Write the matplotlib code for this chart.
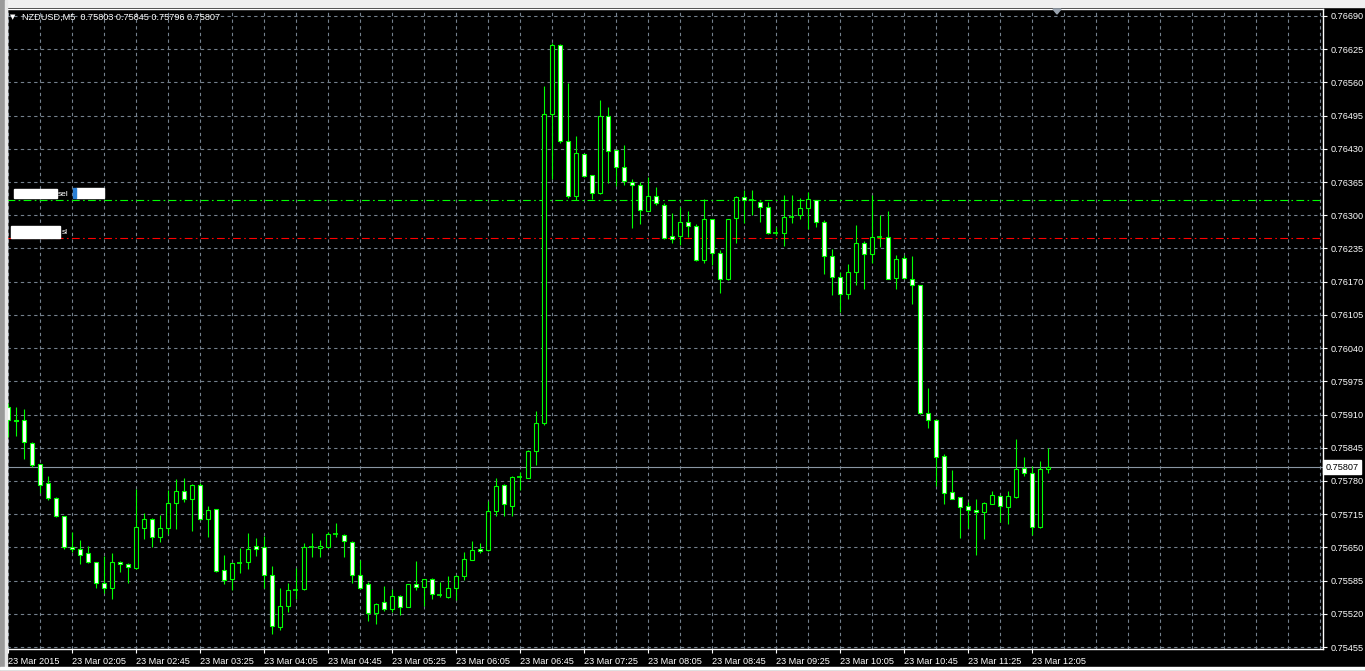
import numpy as np
import matplotlib.pyplot as plt
from matplotlib.patches import Rectangle, Polygon
from matplotlib.transforms import blended_transform_factory

plt.rcParams['font.family'] = ['Liberation Sans', 'DejaVu Sans']

# NZDUSD M5 bars, 23 Mar 2015 01:25 .. 12:15 (one bar every 5 minutes)
opens = [0.75924, 0.75900, 0.75900, 0.75855, 0.75813, 0.75775, 0.75746, 0.75711, 0.75650, 0.75646,
         0.75638, 0.75622, 0.75580, 0.75571, 0.75622, 0.75617, 0.75610, 0.75687, 0.75705, 0.75670,
         0.75687, 0.75736, 0.75760, 0.75744, 0.75773, 0.75705, 0.75725, 0.75605, 0.75589, 0.75620,
         0.75621, 0.75652, 0.75650, 0.75595, 0.75495, 0.75536, 0.75566, 0.75568, 0.75650, 0.75649,
         0.75651, 0.75677, 0.75675, 0.75660, 0.75595, 0.75578, 0.75521, 0.75543, 0.75529, 0.75554,
         0.75534, 0.75578, 0.75572, 0.75589, 0.75556, 0.75553, 0.75570, 0.75593, 0.75626, 0.75646,
         0.75644, 0.75722, 0.75773, 0.75731, 0.75787, 0.75785, 0.75838, 0.75893, 0.76499, 0.76634,
         0.76445, 0.76338, 0.76419, 0.76378, 0.76344, 0.76495, 0.76427, 0.76394, 0.76366, 0.76360,
         0.76309, 0.76337, 0.76321, 0.76259, 0.76259, 0.76286, 0.76278, 0.76212, 0.76292, 0.76227,
         0.76176, 0.76294, 0.76336, 0.76329, 0.76325, 0.76317, 0.76266, 0.76266, 0.76297, 0.76300,
         0.76315, 0.76329, 0.76286, 0.76221, 0.76180, 0.76146, 0.76188, 0.76245, 0.76225, 0.76257,
         0.76257, 0.76178, 0.76216, 0.76176, 0.76163, 0.75912, 0.75900, 0.75829, 0.75758, 0.75748,
         0.75730, 0.75724, 0.75719, 0.75735, 0.75750, 0.75729, 0.75749, 0.75805, 0.75795, 0.75690,
         0.75803]
highs = [0.75933, 0.75925, 0.75921, 0.75856, 0.75813, 0.75790, 0.75749, 0.75711, 0.75680, 0.75664,
         0.75652, 0.75622, 0.75633, 0.75639, 0.75623, 0.75619, 0.75765, 0.75718, 0.75708, 0.75713,
         0.75763, 0.75783, 0.75785, 0.75774, 0.75775, 0.75731, 0.75726, 0.75635, 0.75620, 0.75649,
         0.75679, 0.75668, 0.75673, 0.75613, 0.75570, 0.75581, 0.75610, 0.75659, 0.75679, 0.75664,
         0.75680, 0.75698, 0.75676, 0.75663, 0.75626, 0.75582, 0.75541, 0.75574, 0.75568, 0.75557,
         0.75579, 0.75623, 0.75589, 0.75591, 0.75582, 0.75594, 0.75596, 0.75641, 0.75663, 0.75658,
         0.75740, 0.75785, 0.75774, 0.75790, 0.75798, 0.75840, 0.75917, 0.76553, 0.76637, 0.76635,
         0.76559, 0.76455, 0.76420, 0.76379, 0.76525, 0.76512, 0.76428, 0.76437, 0.76371, 0.76365,
         0.76375, 0.76355, 0.76324, 0.76305, 0.76316, 0.76309, 0.76282, 0.76331, 0.76293, 0.76232,
         0.76293, 0.76337, 0.76350, 0.76349, 0.76328, 0.76325, 0.76277, 0.76339, 0.76339, 0.76333,
         0.76345, 0.76330, 0.76291, 0.76233, 0.76188, 0.76204, 0.76281, 0.76250, 0.76339, 0.76300,
         0.76308, 0.76222, 0.76222, 0.76220, 0.76164, 0.75962, 0.75901, 0.75832, 0.75801, 0.75749,
         0.75739, 0.75744, 0.75738, 0.75760, 0.75752, 0.75761, 0.75863, 0.75826, 0.75809, 0.75820,
         0.75845]
lows = [0.75866, 0.75868, 0.75823, 0.75808, 0.75757, 0.75742, 0.75710, 0.75647, 0.75641, 0.75618,
        0.75620, 0.75571, 0.75560, 0.75549, 0.75602, 0.75581, 0.75607, 0.75667, 0.75651, 0.75661,
        0.75676, 0.75686, 0.75739, 0.75682, 0.75704, 0.75670, 0.75602, 0.75579, 0.75566, 0.75600,
        0.75607, 0.75633, 0.75571, 0.75480, 0.75489, 0.75523, 0.75548, 0.75567, 0.75631, 0.75631,
        0.75650, 0.75671, 0.75631, 0.75581, 0.75569, 0.75506, 0.75500, 0.75526, 0.75524, 0.75517,
        0.75533, 0.75566, 0.75536, 0.75548, 0.75553, 0.75551, 0.75547, 0.75586, 0.75625, 0.75639,
        0.75642, 0.75712, 0.75712, 0.75712, 0.75762, 0.75785, 0.75812, 0.75889, 0.76370, 0.76442,
        0.76333, 0.76329, 0.76375, 0.76331, 0.76341, 0.76364, 0.76357, 0.76359, 0.76275, 0.76283,
        0.76308, 0.76321, 0.76254, 0.76246, 0.76241, 0.76258, 0.76211, 0.76207, 0.76203, 0.76147,
        0.76174, 0.76246, 0.76284, 0.76300, 0.76286, 0.76264, 0.76261, 0.76240, 0.76285, 0.76292,
        0.76273, 0.76277, 0.76185, 0.76144, 0.76111, 0.76136, 0.76163, 0.76156, 0.76206, 0.76238,
        0.76175, 0.76155, 0.76176, 0.76126, 0.75911, 0.75884, 0.75770, 0.75735, 0.75745, 0.75668,
        0.75688, 0.75635, 0.75666, 0.75734, 0.75700, 0.75696, 0.75747, 0.75790, 0.75674, 0.75688,
        0.75796]
closes = [0.75899, 0.75898, 0.75857, 0.75812, 0.75773, 0.75746, 0.75711, 0.75650, 0.75646, 0.75636,
          0.75622, 0.75580, 0.75570, 0.75622, 0.75617, 0.75611, 0.75689, 0.75705, 0.75670, 0.75687,
          0.75736, 0.75760, 0.75744, 0.75773, 0.75705, 0.75724, 0.75603, 0.75587, 0.75619, 0.75621,
          0.75646, 0.75646, 0.75595, 0.75497, 0.75536, 0.75566, 0.75567, 0.75650, 0.75651, 0.75652,
          0.75677, 0.75676, 0.75662, 0.75595, 0.75571, 0.75521, 0.75540, 0.75529, 0.75554, 0.75533,
          0.75578, 0.75572, 0.75589, 0.75558, 0.75557, 0.75570, 0.75593, 0.75628, 0.75644, 0.75642,
          0.75722, 0.75771, 0.75734, 0.75787, 0.75788, 0.75838, 0.75893, 0.76499, 0.76633, 0.76446,
          0.76337, 0.76421, 0.76377, 0.76344, 0.76495, 0.76425, 0.76395, 0.76367, 0.76360, 0.76311,
          0.76337, 0.76323, 0.76255, 0.76253, 0.76286, 0.76278, 0.76212, 0.76292, 0.76227, 0.76176,
          0.76292, 0.76335, 0.76330, 0.76328, 0.76317, 0.76266, 0.76267, 0.76296, 0.76298, 0.76315,
          0.76331, 0.76286, 0.76221, 0.76180, 0.76145, 0.76188, 0.76245, 0.76225, 0.76257, 0.76258,
          0.76176, 0.76214, 0.76178, 0.76163, 0.75912, 0.75900, 0.75827, 0.75757, 0.75745, 0.75729,
          0.75724, 0.75720, 0.75736, 0.75752, 0.75731, 0.75750, 0.75803, 0.75795, 0.75690, 0.75803,
          0.75807]

time_labels = ['23 Mar 2015', '23 Mar 02:05', '23 Mar 02:45', '23 Mar 03:25', '23 Mar 04:05',
               '23 Mar 04:45', '23 Mar 05:25', '23 Mar 06:05', '23 Mar 06:45', '23 Mar 07:25',
               '23 Mar 08:05', '23 Mar 08:45', '23 Mar 09:25', '23 Mar 10:05', '23 Mar 10:45',
               '23 Mar 11:25', '23 Mar 12:05']
price_ticks = [0.75455, 0.75520, 0.75585, 0.75650, 0.75715, 0.75780, 0.75845, 0.75910, 0.75975,
               0.76040, 0.76105, 0.76170, 0.76235, 0.76300, 0.76365, 0.76430, 0.76495, 0.76560,
               0.76625, 0.76690]

sell_level = 0.76330
sl_level = 0.76255
bid = 0.75807
header = 'NZDUSD,M5  0.75803 0.75845 0.75796 0.75807'

GREEN = '#00ff00'
GRID = '#74808d'
FS = 6.6
W, H = 1365, 671


def fx(x):
    return x / W


def fy(y):
    return 1 - y / H


fig = plt.figure(figsize=(W / 100, H / 100), dpi=100, facecolor='black')

# window chrome around the chart
fig.patches.append(Rectangle((0, fy(7)), 1, 7 / H, transform=fig.transFigure, color='#f0f0f0', zorder=0))
fig.patches.append(Rectangle((0, 0), fx(5), 1, transform=fig.transFigure, color='#9a9a9a', zorder=0))
fig.patches.append(Rectangle((fx(5), 0), fx(1.5), 1, transform=fig.transFigure, color='#e8e8e8', zorder=0))
fig.patches.append(Rectangle((0, 0), 1, 3 / H, transform=fig.transFigure, color='#d8d8d8', zorder=0))
fig.patches.append(Rectangle((0, fy(669)), 1, 2 / H, transform=fig.transFigure, color='white', zorder=0))

ax = fig.add_axes([fx(7), 22 / H, 1316 / W, 640 / H], facecolor='black')
ax.set_xlim(-0.0625, 164.4375)
ax.set_ylim(0.754511, 0.767036)

n = len(opens)
for i in range(n):
    o, h, l, c = opens[i], highs[i], lows[i], closes[i]
    ax.vlines(i, l, h, color=GREEN, lw=0.8, zorder=3)
    if abs(c - o) < 0.000015:
        ax.hlines(o, i - 0.3, i + 0.3, color=GREEN, lw=1.2, zorder=4)
    else:
        face = 'black' if c > o else 'white'
        ax.bar(i, abs(c - o), width=0.5, bottom=min(o, c), color=face,
               edgecolor=GREEN, linewidth=0.8, zorder=4)

# order levels and bid line
dashdot = (0, (7, 3, 1.5, 3))
ax.axhline(sell_level, color='#00ff00', lw=0.8, linestyle=dashdot, zorder=2)
ax.axhline(sl_level, color='#ff0000', lw=0.8, linestyle=dashdot, zorder=2)
ax.axhline(bid, color='#8a96a3', lw=0.8, zorder=2)

# ticks and grid
label_pos = np.arange(0, 8 * len(time_labels), 8)
minor_pos = [k for k in range(4, 165, 4) if k not in label_pos]
ax.set_xticks(label_pos)
ax.set_xticklabels(time_labels, ha='left')
ax.set_xticks(minor_pos, minor=True)
ax.yaxis.tick_right()
ax.set_yticks(price_ticks)
ax.set_yticklabels([f'{p:.5f}' for p in price_ticks])
ax.tick_params(axis='both', which='major', colors='white', length=3, width=0.8,
               labelsize=FS, pad=2.5)
ax.tick_params(axis='x', which='minor', length=0)
ax.set_axisbelow(True)
ax.grid(True, axis='x', which='both', color=GRID, linestyle=(0, (3, 3)), lw=0.8)
ax.grid(True, axis='y', which='major', color=GRID, linestyle=(0, (3, 3)), lw=0.8)
for s in ax.spines.values():
    s.set_color('white')
    s.set_linewidth(1)

# bid price box on the price scale
tr = blended_transform_factory(ax.transAxes, ax.transData)
ax.text(1.002, bid, f'{bid:.5f}', transform=tr, ha='left', va='center', color='black',
        fontsize=FS, clip_on=False,
        bbox=dict(boxstyle='square,pad=0.25', fc='white', ec='white'))

# header
fig.text(fx(10), fy(17), '\u25bc', color='white', fontsize=5, va='center', family='DejaVu Sans')
fig.text(fx(22), fy(17), header, color='white', fontsize=FS, va='center')

# order labels (partly masked in the original)
for (x0, y0, x1, y1) in [(14, 189, 57, 198), (76, 188, 104, 198), (11, 226, 60, 238)]:
    fig.patches.append(Rectangle((fx(x0), fy(y1)), (x1 - x0) / W, (y1 - y0) / H,
                                 transform=fig.transFigure, color='white', zorder=5))
fig.patches.append(Rectangle((fx(73), fy(198)), 3 / W, 10 / H, transform=fig.transFigure,
                             color='#2a7fd4', zorder=5))
fig.text(fx(58), fy(194), 'sel', color='white', fontsize=6, va='center', zorder=6)
fig.text(fx(62), fy(233), 'sl', color='white', fontsize=6, va='center', zorder=6)

# chart shift marker
fig.patches.append(Polygon([(fx(1053), fy(9)), (fx(1061), fy(9)), (fx(1057), fy(14))],
                           closed=True, transform=fig.transFigure, color='#9aa4b0', zorder=6))

fig.savefig('out.png', dpi=100, facecolor='black')
